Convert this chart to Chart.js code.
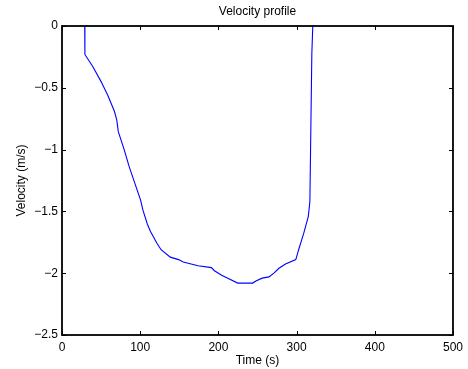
<!DOCTYPE html>
<html>
<head>
<meta charset="utf-8">
<script src="https://cdn.jsdelivr.net/npm/chart.js@4/dist/chart.umd.min.js"></script>
<style>
  html, body { margin: 0; padding: 0; background: #fff; }
  #wrap { width: 468px; height: 369px; }
</style>
</head>
<body>
<div id="wrap"><canvas id="myChart" width="468" height="369"></canvas></div>
<script>
// time (s) and velocity (m/s)
const times = [28.8, 29.3, 39.5, 50, 58.5, 67, 70, 72, 79.5, 86, 100.6, 103.5, 109, 113, 121.6, 126.7,
    138.5, 149, 155, 174, 191, 195, 203.6, 212, 224.7, 243.7, 248, 256, 264.7, 271, 277.4, 285.8,
    299, 302.6, 309, 315, 317, 319.5, 320.7, 321.2];
const velocities = [0.2, -0.23, -0.33, -0.45, -0.56, -0.69, -0.76, -0.855, -1.0, -1.14, -1.41, -1.49,
    -1.6, -1.66, -1.76, -1.81, -1.87, -1.89, -1.91, -1.94, -1.955, -1.98, -2.015, -2.04, -2.08, -2.08,
    -2.063, -2.04, -2.03, -2.0, -1.96, -1.925, -1.89, -1.81, -1.68, -1.54, -1.42, -0.22, 0, 0.2];
const xTicks = [0, 100, 200, 300, 400, 500];
const yTicks = [-2.5, -2, -1.5, -1, -0.5, 0];

const font = '"Liberation Sans", Arial, Helvetica, sans-serif';
const fmt = (v) => (v < 0 ? '\u2212' + Math.abs(v) : '' + v);

// box, inward ticks and titles, matlab style
const matlabFrame = {
    id: 'matlabFrame',
    afterDraw(chart) {
        const ctx = chart.ctx;
        const a = chart.chartArea;
        const xs = chart.scales.x;
        const ys = chart.scales.y;
        ctx.save();
        ctx.strokeStyle = '#000';
        ctx.lineWidth = 1;
        xTicks.forEach((t) => {
            const px = Math.round(xs.getPixelForValue(t)) + 0.5;
            ctx.beginPath();
            ctx.moveTo(px, a.bottom); ctx.lineTo(px, a.bottom - 4);
            ctx.moveTo(px, a.top); ctx.lineTo(px, a.top + 4);
            ctx.stroke();
        });
        yTicks.forEach((t) => {
            const py = Math.round(ys.getPixelForValue(t)) + 0.5;
            ctx.beginPath();
            ctx.moveTo(a.left, py); ctx.lineTo(a.left + 4, py);
            ctx.moveTo(a.right, py); ctx.lineTo(a.right - 4, py);
            ctx.stroke();
        });
        ctx.lineWidth = 1.8;
        ctx.strokeRect(a.left, a.top, a.right - a.left, a.bottom - a.top);

        ctx.fillStyle = '#000';
        ctx.font = '12px ' + font;
        ctx.textAlign = 'center';
        ctx.textBaseline = 'middle';
        const cx = (a.left + a.right) / 2;
        ctx.fillText('Velocity profile', cx, 12);
        ctx.fillText('Time (s)', cx, 361);
        ctx.translate(22, (a.top + a.bottom) / 2);
        ctx.rotate(-Math.PI / 2);
        ctx.fillText('Velocity (m/s)', 0, 0);
        ctx.restore();
    }
};

const ctx = document.getElementById('myChart');
const myChart = new Chart(ctx, {
    type: 'line',
    data: {
        datasets: [{
            label: 'Velocity',
            data: times.map((t, i) => ({ x: t, y: velocities[i] })),
            borderColor: '#0000ff',
            borderWidth: 1.1,
            pointRadius: 0,
            tension: 0,
            fill: false,
            clip: 0
        }]
    },
    options: {
        responsive: false,
        animation: false,
        layout: { padding: { left: 0, right: 10, top: 26, bottom: 0 } },
        plugins: {
            legend: { display: false },
            tooltip: { enabled: false },
            title: { display: false }
        },
        scales: {
            x: {
                type: 'linear',
                min: 0,
                max: 500,
                afterFit: (scale) => { scale.height = 34; },
                afterBuildTicks: (scale) => { scale.ticks = xTicks.map((v) => ({ value: v })); },
                grid: { display: true, drawOnChartArea: false, drawTicks: false },
                border: { display: false },
                ticks: {
                    padding: 5,
                    maxRotation: 0,
                    color: '#000',
                    font: { family: font, size: 12 },
                    callback: (v) => fmt(v)
                }
            },
            y: {
                type: 'linear',
                min: -2.5,
                max: 0,
                afterFit: (scale) => { scale.width = 62; },
                afterBuildTicks: (scale) => { scale.ticks = yTicks.map((v) => ({ value: v })); },
                grid: { display: true, drawOnChartArea: false, drawTicks: false },
                border: { display: false },
                ticks: {
                    padding: 4,
                    color: '#000',
                    font: { family: font, size: 12 },
                    callback: (v) => fmt(v)
                }
            }
        }
    },
    plugins: [matlabFrame]
});
</script>
</body>
</html>
